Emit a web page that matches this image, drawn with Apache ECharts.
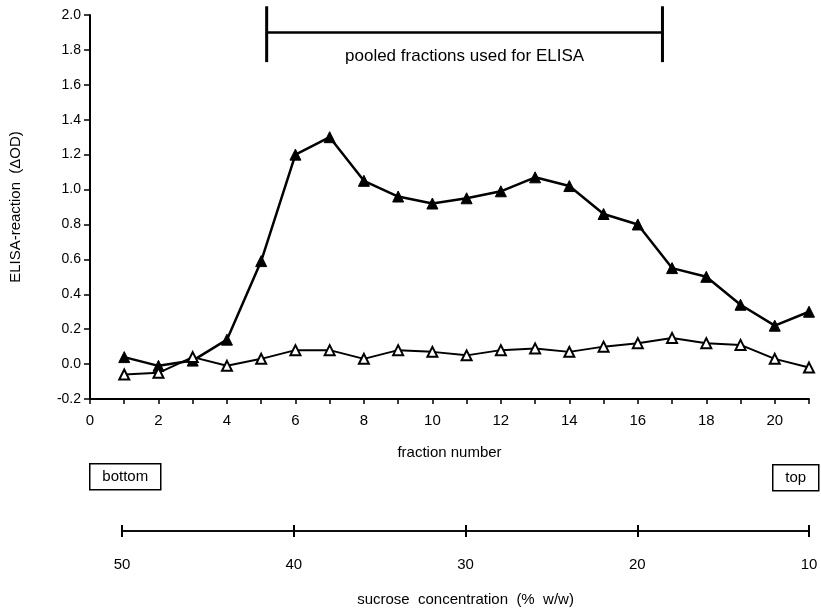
<!DOCTYPE html>
<html>
<head>
<meta charset="utf-8">
<script src="https://cdn.jsdelivr.net/npm/echarts@6/dist/echarts.min.js"></script>
<style>
  html, body { margin: 0; padding: 0; background: #fff; }
  #chart { width: 821px; height: 608px; }
</style>
</head>
<body>
<div id="chart"></div>
<script>
// fraction numbers 1..21
const fractions = [1, 2, 3, 4, 5, 6, 7, 8, 9, 10, 11, 12, 13, 14, 15, 16, 17, 18, 19, 20, 21];
// filled triangles
const filledValues = [0.04, -0.01, 0.02, 0.14, 0.59, 1.20, 1.30, 1.05, 0.96, 0.92, 0.95,
  0.99, 1.07, 1.02, 0.86, 0.80, 0.55, 0.50, 0.34, 0.22, 0.30];
// open triangles
const openValues = [-0.06, -0.05, 0.04, -0.01, 0.03, 0.08, 0.08, 0.03, 0.08, 0.07, 0.05,
  0.08, 0.09, 0.07, 0.10, 0.12, 0.15, 0.12, 0.11, 0.03, -0.02];

// pooled fractions bracket (data units)
const bracketFrom = 5.16;
const bracketTo = 16.72;
const bracketLevel = 1.9;
const bracketTop = 2.05;
const bracketBottom = 1.73;
const bracketLabelY = 1.765;
const bracketText = 'pooled fractions used for ELISA';

// sucrose scale
const sucroseMin = 10;
const sucroseMax = 50;
const sucroseStep = 10;

const FONT = "'Liberation Sans', Arial, Helvetica, sans-serif";

let chart = echarts.init(document.getElementById('chart'));

function pairs(vals) {
  return fractions.map((f, i) => [f, vals[i]]);
}

let option = {
  animation: false,
  backgroundColor: '#fff',
  textStyle: { fontFamily: FONT, color: '#000' },
  grid: [
    { left: 90, right: 12, top: 15, bottom: 209 },
    { left: 122, right: 12, top: 531, height: 0 }
  ],
  xAxis: [
    {
      gridIndex: 0,
      type: 'value',
      min: 0,
      max: 21,
      interval: 1,
      name: 'fraction number',
      nameLocation: 'middle',
      nameGap: 46,
      nameTextStyle: { fontSize: 15, color: '#000', fontFamily: FONT },
      splitLine: { show: false },
      axisLine: { onZero: false, lineStyle: { color: '#000', width: 2 } },
      axisTick: { length: 5, lineStyle: { color: '#000', width: 1.5 } },
      axisLabel: {
        fontSize: 15, color: '#000', margin: 14, fontFamily: FONT,
        formatter: v => (v % 2 === 0 ? String(v) : '')
      }
    },
    {
      gridIndex: 1,
      type: 'value',
      min: sucroseMin,
      max: sucroseMax,
      interval: sucroseStep,
      inverse: true,
      position: 'bottom',
      splitLine: { show: false },
      axisLine: { onZero: false, lineStyle: { color: '#000', width: 1.5 } },
      axisTick: { inside: true, length: 6, lineStyle: { color: '#000', width: 2 } },
      axisLabel: { show: false }
    },
    {
      gridIndex: 1,
      type: 'value',
      min: sucroseMin,
      max: sucroseMax,
      interval: sucroseStep,
      inverse: true,
      position: 'bottom',
      name: 'sucrose  concentration  (%  w/w)',
      nameLocation: 'middle',
      nameGap: 61,
      nameTextStyle: { fontSize: 15, color: '#000', fontFamily: FONT },
      splitLine: { show: false },
      axisLine: { onZero: false, lineStyle: { color: '#000', width: 1.5 } },
      axisTick: { length: 6, lineStyle: { color: '#000', width: 2 } },
      axisLabel: { fontSize: 15, color: '#000', margin: 26, fontFamily: FONT }
    }
  ],
  yAxis: [
    {
      gridIndex: 0,
      type: 'value',
      min: -0.2,
      max: 2.0,
      interval: 0.2,
      name: 'ELISA-reaction  (ΔOD)',
      nameLocation: 'middle',
      nameGap: 67,
      nameTextStyle: { fontSize: 15, color: '#000', fontFamily: FONT },
      splitLine: { show: false },
      axisLine: { onZero: false, lineStyle: { color: '#000', width: 2 } },
      axisTick: { length: 6, lineStyle: { color: '#000', width: 1.5 } },
      axisLabel: {
        fontSize: 14, color: '#000', margin: 9, fontFamily: FONT,
        formatter: v => v.toFixed(1)
      }
    },
    {
      gridIndex: 1,
      type: 'value',
      show: false
    }
  ],
  graphic: [
    {
      type: 'group',
      left: 89,
      top: 463,
      children: [
        { type: 'rect', shape: { x: 0, y: 0, width: 71, height: 26 },
          style: { fill: '#fff', stroke: '#000', lineWidth: 1.5 } },
        { type: 'text', x: 35.5, y: 13,
          style: { text: 'bottom', fill: '#000', font: '15px ' + FONT, align: 'center', verticalAlign: 'middle' } }
      ]
    },
    {
      type: 'group',
      left: 772,
      top: 464,
      children: [
        { type: 'rect', shape: { x: 0, y: 0, width: 46, height: 26 },
          style: { fill: '#fff', stroke: '#000', lineWidth: 1.5 } },
        { type: 'text', x: 23, y: 13,
          style: { text: 'top', fill: '#000', font: '15px ' + FONT, align: 'center', verticalAlign: 'middle' } }
      ]
    }
  ],
  series: [
    {
      name: 'filled',
      type: 'line',
      xAxisIndex: 0,
      yAxisIndex: 0,
      data: pairs(filledValues),
      symbol: 'triangle',
      symbolSize: 11,
      lineStyle: { color: '#000', width: 2.5 },
      itemStyle: { color: '#000', borderColor: '#000', borderWidth: 1 },
      z: 3
    },
    {
      name: 'open',
      type: 'line',
      xAxisIndex: 0,
      yAxisIndex: 0,
      data: pairs(openValues),
      symbol: 'triangle',
      symbolSize: 10,
      showAllSymbol: true,
      lineStyle: { color: '#000', width: 2 },
      itemStyle: { color: '#fff', borderColor: '#000', borderWidth: 2 },
      z: 4
    },
    {
      name: 'bracket',
      type: 'custom',
      xAxisIndex: 0,
      yAxisIndex: 0,
      clip: false,
      silent: true,
      data: [[bracketFrom, bracketLevel, bracketTo]],
      encode: { x: [0, 2], y: 1 },
      renderItem: function (params, api) {
        let a = api.coord([api.value(0), api.value(1)]);
        let b = api.coord([api.value(2), api.value(1)]);
        let top = api.coord([api.value(0), bracketTop])[1];
        let bot = api.coord([api.value(0), bracketBottom])[1];
        let ly = api.coord([api.value(0), bracketLabelY])[1];
        let st = { stroke: '#000', lineWidth: 2.5 };
        return {
          type: 'group',
          children: [
            { type: 'line', shape: { x1: a[0], y1: a[1], x2: b[0], y2: b[1] }, style: st },
            { type: 'line', shape: { x1: a[0], y1: top, x2: a[0], y2: bot }, style: { stroke: '#000', lineWidth: 3 } },
            { type: 'line', shape: { x1: b[0], y1: top, x2: b[0], y2: bot }, style: { stroke: '#000', lineWidth: 3 } },
            { type: 'text', x: (a[0] + b[0]) / 2, y: ly,
              style: { text: bracketText, fill: '#000', font: '17px ' + FONT, align: 'center', verticalAlign: 'middle' } }
          ]
        };
      }
    }
  ]
};

option && chart.setOption(option);
</script>
</body>
</html>
